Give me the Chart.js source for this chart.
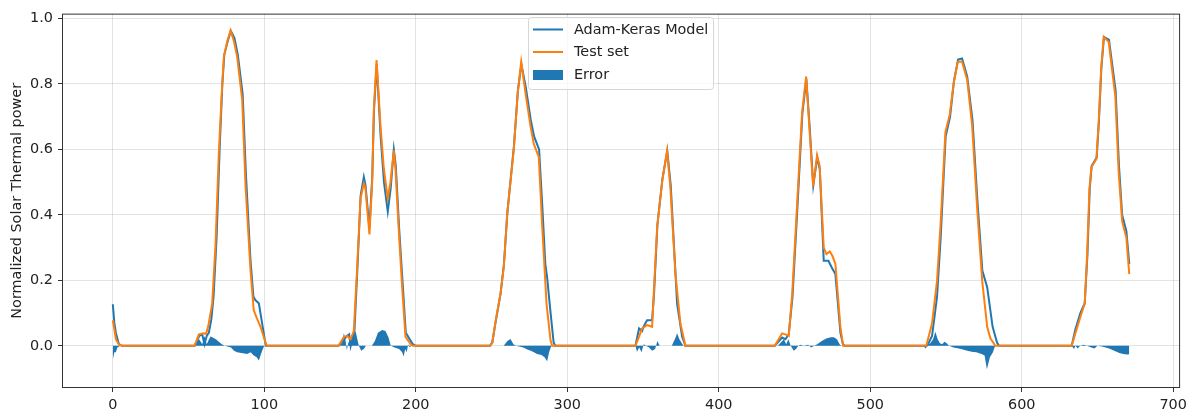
<!DOCTYPE html>
<html lang="en">
<head>
  <meta charset="UTF-8" />
  <title>Adam-Keras Model vs Test set</title>
  <script src="https://cdn.jsdelivr.net/npm/chart.js"></script>
  <style>
    body { margin: 0; background: #fff; }
    #c { display: block; }
  </style>
</head>
<body>
  <canvas id="c" width="1192" height="414"></canvas>

  <script>
    // data (x = sample index, y = normalized power)
    const testX = [0,1,2,4,6,54,56.8,60,61.5,63,65.6,67.8,70,72,73.3,75.5,77.7,80,82.1,85.4,87.6,90.9,93,95,97.5,101.5,
      149,152.7,154.9,156.9,159.1,161.3,163.5,165.7,166.8,169.4,171.2,172.3,174.1,176.7,178.9,181.5,183.3,185.5,186.6,188.8,191,193.2,196.5,198,
      249,250.5,252.6,255.9,258.1,260.3,264.7,267.3,269.6,272.4,275.7,277.9,281.2,283.4,286.3,288.9,290,
      345,347.4,349.4,352.7,356,357.1,359.3,362.6,365.9,368.1,371.4,374.7,378,
      437,441.8,444,446.2,448.5,451.7,455,457.7,459.9,462.3,464.9,466.6,469.3,471.1,473.3,475,477,480.3,482.1,
      537,540.8,544.1,546.3,548.5,549.6,552.5,555.1,557.8,560.6,564,567.3,570.6,573.9,577.2,579.3,582.6,
      633,635.4,638.7,641.6,643.2,644.7,646,649.3,650.8,652.4,654.1,657.4,661.8,664,666.3,669.1,671];
    const testY = [0.078,0.05,0.02,0.004,0,0,0.035,0.038,0.036,0.06,0.129,0.31,0.59,0.78,0.883,0.93,0.964,0.93,0.883,0.752,0.49,0.23,0.109,0.085,0.058,0,
      0,0.028,0.03,0.02,0.045,0.24,0.45,0.496,0.48,0.34,0.5,0.72,0.873,0.672,0.541,0.45,0.5,0.597,0.54,0.35,0.179,0.028,0.005,0,
      0,0.01,0.073,0.159,0.24,0.4,0.6,0.773,0.868,0.773,0.672,0.617,0.577,0.37,0.129,0.018,0,
      0,0.028,0.053,0.063,0.058,0.159,0.36,0.5,0.597,0.48,0.219,0.068,0,
      0,0.038,0.035,0.03,0.159,0.43,0.712,0.823,0.662,0.486,0.582,0.55,0.3,0.28,0.288,0.275,0.25,0.058,0,
      0,0.068,0.199,0.36,0.551,0.652,0.707,0.803,0.868,0.868,0.813,0.672,0.42,0.199,0.058,0.023,0,
      0,0.038,0.088,0.129,0.28,0.48,0.546,0.571,0.682,0.843,0.944,0.929,0.763,0.531,0.38,0.33,0.219];

    const modelX = [0,1,2,4,6,54,57,59,60.5,62,63.4,65,66.5,68.5,70.5,72.3,73.6,75.8,77.9,80.3,82.5,85.7,87.9,90.9,92.8,94.2,96.4,98.5,101,
      149,152.7,154.5,156,157,158.5,159.5,161.5,163.6,165.7,166.8,169.4,171.3,172.4,174.2,176.8,179,181.5,183.4,185.5,186.8,189,191.2,193.4,196,198,200,
      249,250.5,252.6,256,258.2,260.5,264.8,267.4,269.7,272.6,275.9,278.1,281.4,283.6,285.5,286.7,289,291,292,
      345,347.4,349.4,350.5,352.7,356,357.3,359.5,362.8,366,368.3,371,372.5,375.8,378,
      437,441.8,444,446.2,448.7,451.9,455.2,457.8,460,462.4,465,466.7,469.3,472.4,474.5,477,480.3,482,483,
      537,538,540.8,541.5,544.1,546.5,548.7,549.8,552.7,555.3,558,560.6,564,567.5,570.8,574,577.2,580.8,583.7,585,
      633,635.4,638.7,641.6,643.4,644.9,646.2,649.5,651,652.6,654.3,657.6,662,664.2,666.3,669.1,671];
    const modelY = [0.127,0.07,0.04,0.005,0,0,0.03,0.035,0.005,0.03,0.04,0.08,0.15,0.33,0.6,0.8,0.89,0.93,0.962,0.94,0.89,0.77,0.52,0.26,0.15,0.139,0.13,0.07,0,
      0,0.02,0.03,0.035,0,0.03,0.045,0.24,0.46,0.516,0.49,0.36,0.52,0.72,0.86,0.64,0.5,0.41,0.48,0.6,0.55,0.36,0.2,0.04,0.02,0.005,0,
      0,0.01,0.07,0.16,0.25,0.41,0.61,0.78,0.86,0.79,0.69,0.64,0.6,0.42,0.25,0.209,0.1,0.01,0,
      0,0.053,0.045,0.06,0.078,0.078,0.16,0.37,0.51,0.595,0.49,0.26,0.129,0.028,0,
      0,0.025,0.02,0.035,0.15,0.42,0.71,0.815,0.67,0.49,0.575,0.54,0.26,0.26,0.24,0.219,0.04,0.005,0,
      0,0.003,0.03,0.055,0.15,0.33,0.54,0.64,0.7,0.81,0.875,0.878,0.823,0.69,0.44,0.23,0.179,0.058,0.01,0,
      0,0.05,0.1,0.13,0.28,0.48,0.55,0.575,0.69,0.85,0.944,0.935,0.78,0.55,0.4,0.35,0.25];

    const errX = [0,1,2,3,5,53,55,57,59,60.5,62,63.5,64.5,66,68,70,72,74,78,80,82,85,88.7,91,93,95,96.4,97.5,99,100,
      150,151.5,152.5,153.5,154.5,155.5,157,160.2,162.4,164,166,167,171,173,175,177.8,180,182,183.5,186,189,191,192,193,194,195,196,197,
      258,260.5,262.5,264.5,266,271,274,276,278,280,283,285,286.7,288,289.5,
      345,346,347.5,349,350.5,352,354,356,358,359.5,361,369,370,371.5,372.5,374,376,377,
      439,441,443,444.5,446,447.5,449.5,451,452.5,454,456,459,461,463,465,468,471,474,476,478,480,481,
      535,536.4,538,540,541.5,543,544.5,546,547.5,549,550.5,552,555,560,564,567,570,573.5,575.5,577,579,581,582.5,
      633,634.5,635.5,637,638.5,641,643,646,648,650,653,656,658.5,661,664.5,667,669.6,671];
    const errY = [-0.042,-0.02,-0.02,-0.005,0,0,0.01,0.02,0.005,0.03,0.005,0.02,0.028,0.025,0.02,0.012,0.005,0,-0.005,-0.015,-0.02,-0.022,-0.025,-0.02,-0.03,-0.035,-0.045,-0.03,-0.01,0,
      0,0.01,0.038,0.02,-0.013,0.01,0.015,0.045,0,-0.015,-0.008,0,0,0.015,0.04,0.048,0.045,0.025,0,-0.005,-0.01,-0.02,-0.033,-0.01,-0.02,0.005,-0.005,0,
      0,0.015,0.021,0.005,0,-0.005,-0.012,-0.015,-0.02,-0.025,-0.028,-0.035,-0.047,-0.02,0,
      0,-0.018,-0.005,-0.02,0.005,0,-0.005,-0.015,-0.01,0.015,0,0,0.01,0.025,0.038,0.02,0.005,0,
      0,0.01,0.02,0.005,0.02,0,-0.015,-0.01,0,0.003,0,0.003,-0.005,0,0.005,0.015,0.022,0.026,0.026,0.02,0.003,0,
      0,-0.008,0,0.01,0.02,0.043,0.02,0.008,0.005,0.012,0.008,0,-0.005,-0.01,-0.015,-0.018,-0.02,-0.025,-0.03,-0.072,-0.035,-0.02,0,
      0,-0.01,0,-0.008,0,0.003,0,-0.005,-0.008,0,-0.002,-0.006,-0.01,-0.015,-0.022,-0.025,-0.027,-0.026];

    const xTicks = [0, 100, 200, 300, 400, 500, 600, 700];
    const yTicks = [0, 0.2, 0.4, 0.6, 0.8, 1.0];

    const BLUE = '#1f77b4', ORANGE = '#ff7f0e';
    const FONT = 'DejaVu Sans';
    const pts = (xs, ys) => xs.map((x, i) => ({ x: x, y: ys[i] }));

    // frame + legend in matplotlib style
    const mplBits = {
      id: 'mplBits',
      afterDraw(chart) {
        const c = chart.ctx, a = chart.chartArea;
        c.save();
        c.strokeStyle = '#333';
        c.lineWidth = 1;
        c.strokeRect(a.left + 0.5, a.top + 0.5, a.right - a.left - 1, a.bottom - a.top - 1);

        // legend box
        const bx = 528.5, by = 17.5, bw = 185, bh = 72;
        c.fillStyle = 'rgba(255,255,255,0.8)';
        c.strokeStyle = '#d6d6d6';
        c.beginPath();
        c.roundRect(bx, by, bw, bh, 3);
        c.fill();
        c.stroke();

        c.lineWidth = 2;
        c.strokeStyle = BLUE;
        c.beginPath(); c.moveTo(533, 29.5); c.lineTo(563, 29.5); c.stroke();
        c.strokeStyle = ORANGE;
        c.beginPath(); c.moveTo(533, 52); c.lineTo(563, 52); c.stroke();
        c.fillStyle = BLUE;
        c.fillRect(533, 70, 30, 10);

        c.fillStyle = '#222';
        c.font = '14.4px "' + FONT + '"';
        c.textBaseline = 'middle';
        c.fillText('Adam-Keras Model', 574, 30);
        c.fillText('Test set', 574, 52);
        c.fillText('Error', 574, 75);
        c.restore();
      }
    };

    const gridOpts = {
      color: 'rgba(176,176,176,0.35)',
      lineWidth: 1,
      drawTicks: true,
      tickLength: 4,
      tickColor: '#333',
      tickWidth: 1
    };

    new Chart(document.getElementById('c'), {
      type: 'line',
      data: {
        datasets: [
          {
            label: 'Test set',
            data: pts(testX, testY),
            borderColor: ORANGE,
            borderWidth: 2,
            pointRadius: 0,
            tension: 0,
            fill: false
          },
          {
            label: 'Adam-Keras Model',
            data: pts(modelX, modelY),
            borderColor: BLUE,
            borderWidth: 2,
            pointRadius: 0,
            tension: 0,
            fill: false
          },
          {
            label: 'Error',
            data: pts(errX, errY),
            borderColor: 'rgba(0,0,0,0)',
            borderWidth: 1,
            backgroundColor: BLUE,
            pointRadius: 0,
            tension: 0,
            fill: 'origin'
          }
        ]
      },
      options: {
        responsive: false,
        animation: false,
        layout: { padding: { top: 10, right: 11, left: 0, bottom: 0 } },
        plugins: { legend: { display: false }, tooltip: { enabled: false } },
        scales: {
          x: {
            type: 'linear',
            min: -33.55,
            max: 704.55,
            afterBuildTicks: s => { s.ticks = xTicks.map(v => ({ value: v })); },
            afterFit: s => { s.height = 26; },
            grid: gridOpts,
            border: { display: false },
            ticks: {
              color: '#222',
              padding: 5,
              maxRotation: 0,
              font: { family: FONT, size: 14.4 },
              callback: v => String(v)
            }
          },
          y: {
            type: 'linear',
            min: -0.129,
            max: 1.015,
            afterBuildTicks: s => { s.ticks = yTicks.map(v => ({ value: v })); },
            afterFit: s => { s.width = 62; },
            grid: gridOpts,
            border: { display: false },
            ticks: {
              color: '#222',
              padding: 5,
              font: { family: FONT, size: 14.4 },
              callback: v => Number(v).toFixed(1)
            },
            title: {
              display: true,
              text: 'Normalized Solar Thermal power',
              color: '#222',
              font: { family: FONT, size: 14.4 },
              padding: { top: 9, bottom: 0 }
            }
          }
        }
      },
      plugins: [mplBits]
    });
  </script>
</body>
</html>
